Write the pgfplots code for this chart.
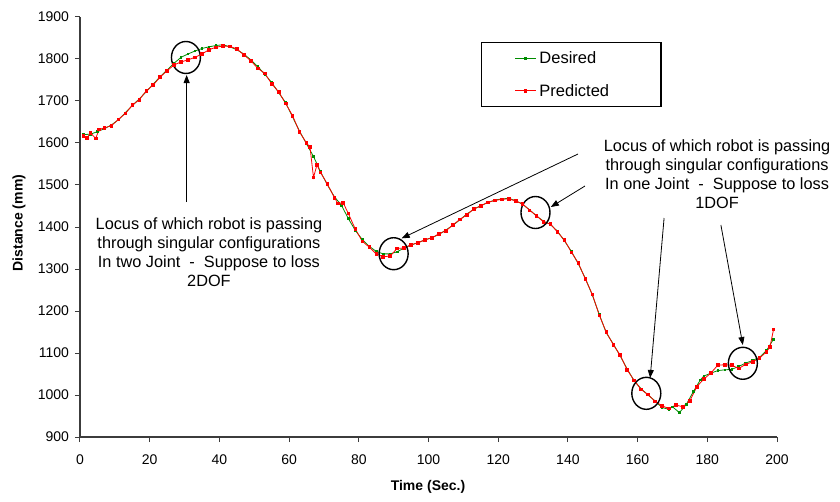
\documentclass[border=0pt]{standalone}
\usepackage{pgfplots}
\pgfplotsset{compat=1.18}
\usepackage{fontspec}
\setmainfont{Liberation Sans}
\usetikzlibrary{arrows.meta}
\definecolor{desgreen}{RGB}{0,140,0}
\definecolor{predred}{RGB}{255,0,0}
\definecolor{axgray}{RGB}{60,60,60}
\begin{document}
\begin{tikzpicture}
\useasboundingbox (-80pt,-64pt) rectangle (760pt,437pt);
\begin{axis}[
  scale only axis,
  width=697pt, height=420pt,
  at={(0pt,0pt)}, anchor=south west,
  xmin=0, xmax=200, ymin=900, ymax=1900,
  xtick={0,20,...,200},
  ytick={900,1000,...,1900},
  axis x line*=bottom, axis y line*=left,
  axis line style={line width=1.4pt, axgray},
  tick style={line width=1pt, axgray},
  tick align=outside,
  major tick length=5pt,
  clip=false,
  /pgf/number format/assume math mode=true,
  /pgf/number format/1000 sep={},
  ticklabel style={font=\fontsize{14}{16}\selectfont},
  yticklabel style={xshift=-2.5pt},
  xticklabel style={yshift=-9.5pt},
  every axis y label/.style={at={(axis description cs:-0.0875,0.5095)}, rotate=90, anchor=center},
  every axis x label/.style={at={(axis description cs:0.4993,-0.119)}, anchor=center},
  ylabel={\bfseries\fontsize{14}{16}\selectfont Distance (mm)},
  xlabel={\bfseries\fontsize{14}{16}\selectfont Time (Sec.)},
  legend cell align=left,
  legend image code/.code={\draw[mark repeat=2,mark phase=2,#1] plot coordinates {(0pt,0pt) (10.5pt,0pt) (21pt,0pt)};},
  legend style={at={(axis description cs:0.5753,0.9405)}, anchor=north west,
    draw=black, line width=1.3pt, font=\fontsize{16.5}{19}\selectfont,
    inner xsep=33pt, inner ysep=6pt, row sep=13pt, nodes={inner sep=3pt}},
]
\addplot[desgreen, line width=0.8pt, mark=square*, mark size=0.8pt, mark options={solid}] coordinates {
(1,1620) (3,1621) (5,1627) (7,1634) (9,1643) (11,1655) (13,1672) (15,1689) (17,1705) (19,1722)
(21,1740) (23,1758) (25,1774) (27,1790) (29,1804) (31,1812) (33,1819) (35,1825) (37,1829) (39,1832)
(41,1834) (43,1829) (45,1822) (47,1812) (49,1798) (51,1782) (53,1764) (55,1744) (57,1720) (59,1696)
(61,1662) (63,1628) (65,1598) (67,1568) (69,1532) (71,1500) (73,1472) (75,1452) (77,1420) (79,1392)
(81,1370) (83,1354) (85,1342) (87,1336) (89,1336) (91,1341) (93,1350) (95,1357) (97,1363) (99,1369)
(101,1375) (103,1382) (105,1393) (107,1404) (109,1417) (111,1431) (113,1442) (115,1451) (117,1458) (119,1464)
(121,1467) (123,1468) (125,1463) (127,1454) (129,1441) (131,1426) (133,1414) (135,1406) (137,1390) (139,1367)
(141,1342) (143,1312) (145,1278) (147,1238) (149,1192) (151,1148) (153,1122) (155,1093) (157,1062) (159,1034)
(161,1015) (163,1000) (165,986) (167,970) (169,966) (170,972) (172,958) (174,978) (176,1008) (178,1036)
(179,1045) (181,1052) (183,1058) (185,1060) (187,1061) (189,1068) (191,1076) (193,1082) (195,1090) (197,1106) (199,1133)
};
\addlegendentry{Desired}
\addplot[predred, line width=0.8pt, mark=square*, mark size=1.3pt, mark options={solid}] coordinates {
(1,1617) (2,1612) (3,1624) (4.5,1611) (5.5,1632) (7,1636) (9,1641) (11,1656) (13,1670) (15,1690)
(17,1703) (19,1724) (21,1738) (23,1757) (25,1772) (27,1786) (29,1793) (31,1798) (33,1804) (35,1812)
(37,1822) (39,1828) (41,1831) (43,1830) (45,1824) (47,1810) (49,1796) (51,1778) (53,1766) (55,1741)
(57,1722) (59,1694) (61,1665) (63,1626) (65,1600) (66,1590) (67,1518) (68,1548) (69,1530) (71,1502)
(73,1470) (74,1456) (75.5,1458) (77,1432) (79,1395) (81,1366) (83,1352) (85,1336) (87,1329) (89,1331)
(91,1349) (93,1350) (95,1358) (97,1362) (99,1370) (101,1374) (103,1384) (105,1391) (107,1405) (109,1418)
(111,1429) (113,1443) (115,1450) (117,1459) (119,1463) (121,1466) (123,1467) (125,1462) (127,1455) (129,1440)
(131,1427) (133,1412) (135,1407) (137,1388) (139,1369) (141,1340) (143,1314) (145,1276) (147,1240) (149,1190)
(151,1150) (153,1120) (155,1095) (157,1060) (159,1035) (161,1013) (163,1001) (165,985) (167,974) (169,968)
(171,976) (173,972) (175,986) (177,1020) (179,1038) (181,1052) (183,1071) (185,1072) (187,1071) (189,1063)
(191,1073) (193,1079) (195,1088) (197,1103) (198,1115) (199,1156)
};
\addlegendentry{Predicted\hspace*{16pt}}
% circles
\draw[line width=1.4pt, black] (axis cs:30.4,1803.6) ellipse [x radius=14.5pt, y radius=16pt];
\draw[line width=1.4pt, black] (axis cs:90.0,1336.4) ellipse [x radius=14.5pt, y radius=16pt];
\draw[line width=1.4pt, black] (axis cs:130.7,1434.5) ellipse [x radius=14.5pt, y radius=16pt];
\draw[line width=1.4pt, black] (axis cs:162.5,1004) ellipse [x radius=14.5pt, y radius=16pt];
\draw[line width=1.4pt, black] (axis cs:190.2,1075.5) ellipse [x radius=14.5pt, y radius=16pt];
% arrows
\draw[line width=0.8pt, -{Triangle[length=8pt,width=6pt]}] (axis cs:30.6,1459.5) -- (axis cs:30.6,1761.9);
\draw[line width=0.8pt, -{Triangle[length=8pt,width=6pt]}] (axis cs:142.9,1573.8) -- (axis cs:92.3,1373);
\draw[line width=0.8pt, -{Triangle[length=8pt,width=6pt]}] (axis cs:144.9,1497.6) -- (axis cs:135.1,1447.6);
\draw[line width=0.8pt, -{Triangle[length=8pt,width=6pt]}] (axis cs:167.6,1421.4) -- (axis cs:163.6,1040.5);
\draw[line width=0.8pt, -{Triangle[length=8pt,width=6pt]}] (axis cs:183.9,1404.8) -- (axis cs:190.2,1119);
% texts
\node[align=center, font=\fontsize{16.3}{19}\selectfont, inner sep=0pt] at (axis cs:37.0,1340.5)
  {Locus of which robot is passing\\through singular configurations\\In two Joint~~-~~Suppose to loss\\2DOF};
\node[align=center, font=\fontsize{16.3}{19}\selectfont, inner sep=0pt] at (axis cs:182.8,1526.2)
  {Locus of which robot is passing\\through singular configurations\\In one Joint~~-~~Suppose to loss\\1DOF};
\end{axis}
\end{tikzpicture}
\end{document}
